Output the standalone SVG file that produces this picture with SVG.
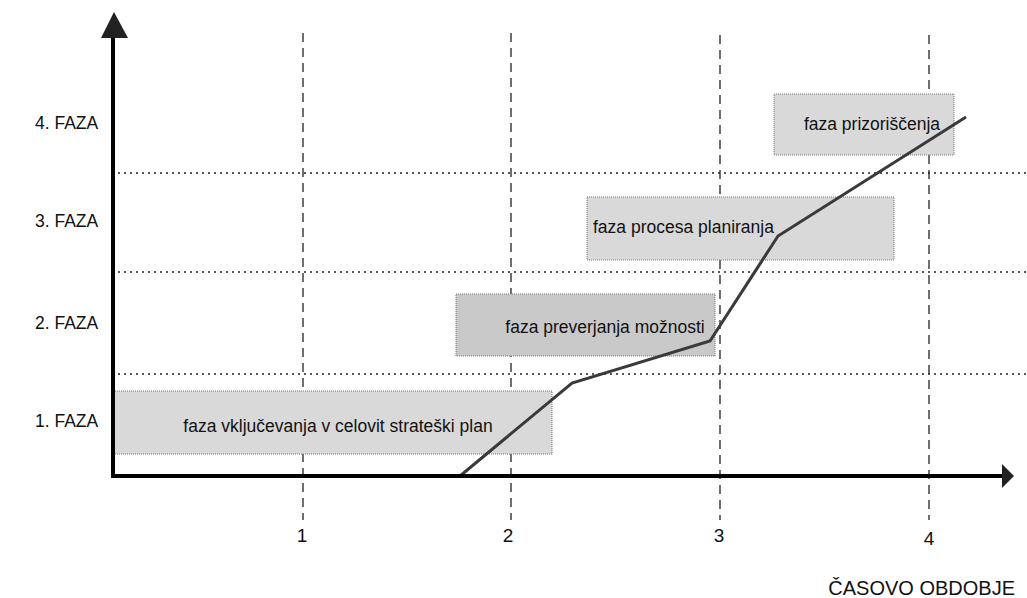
<svg xmlns="http://www.w3.org/2000/svg" width="1027" height="598" viewBox="0 0 1027 598">
<style>
.lbl{font-family:"Liberation Sans",Arial,sans-serif;fill:#111;}
.ax{font-size:17.5px;}
.num{font-size:19px;}
.box{fill:#d9d9d9;stroke:#777;stroke-width:1;stroke-dasharray:1 1;}
.bt{font-size:17.5px;}
.vd{stroke:#222;stroke-width:1.3;stroke-dasharray:9 6;fill:none;}
.hd{stroke:#222;stroke-width:1.3;stroke-dasharray:2 4;fill:none;}
</style>
<rect width="1027" height="598" fill="#fff"/>
<g id="grid">
<path class="vd" d="M303 33V520M511 33V520M720 35V520M929 35V520"/>
<path class="hd" d="M118 173H1027M118 272H1027M118 374H1027"/>
</g>
<g id="node-1"><rect class="box" x="113" y="391" width="439" height="63"/><text class="lbl bt" x="338" y="432" text-anchor="middle">faza vključevanja v celovit strateški plan</text></g>
<g id="node-2"><rect class="box" x="456" y="294" width="259" height="62" style="fill:#c9c9c9"/><text class="lbl bt" x="605" y="333" text-anchor="middle">faza preverjanja možnosti</text></g>
<g id="node-3"><rect class="box" x="587" y="197" width="307" height="63"/><text class="lbl bt" x="593" y="233">faza procesa planiranja</text></g>
<g id="node-4"><rect class="box" x="774" y="94" width="180" height="61"/><text class="lbl bt" x="872" y="130" text-anchor="middle">faza prizoriščenja</text></g>
<g id="connectors">
<polyline points="460,476 572,383 710,341 778,236 966,117" fill="none" stroke="#3a3a3a" stroke-width="3"/>
<path d="M113 476V36" stroke="#000" stroke-width="4" fill="none"/>
<polygon points="114,12 101,38 128,38" fill="#222"/>
<path d="M111 476H1002" stroke="#000" stroke-width="4" fill="none"/>
<polygon points="1014,476 1002,464 1002,488" fill="#222"/>
</g>
<g id="labels">
<text class="lbl ax" x="35" y="129">4. FAZA</text>
<text class="lbl ax" x="35" y="227">3. FAZA</text>
<text class="lbl ax" x="35" y="329">2. FAZA</text>
<text class="lbl ax" x="35" y="427">1. FAZA</text>
<text class="lbl num" x="302" y="542" text-anchor="middle">1</text>
<text class="lbl num" x="508" y="542" text-anchor="middle">2</text>
<text class="lbl num" x="719" y="542" text-anchor="middle">3</text>
<text class="lbl num" x="929" y="545" text-anchor="middle">4</text>
<text class="lbl" style="font-size:20px" x="1015" y="595" text-anchor="end">ČASOVO OBDOBJE</text>
</g>
</svg>
